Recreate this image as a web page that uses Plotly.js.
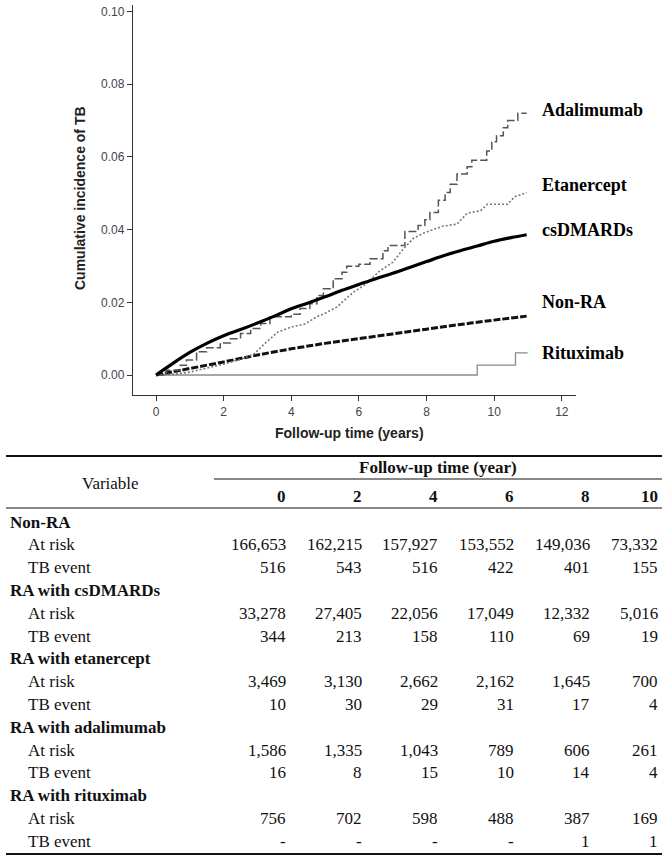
<!DOCTYPE html>
<html>
<head>
<meta charset="utf-8">
<script src="https://cdn.plot.ly/plotly-3.0.1.min.js"></script>
<style>
html,body{margin:0;padding:0;background:#fff;}
#chart{width:666px;height:866px;}
</style>
</head>
<body>
<div id="chart"></div>
<script>
// ---------- Curve data ----------
var nonraT = [0, 0.5, 1, 2, 3, 4, 5, 6, 7, 8, 9, 10, 10.96];
var nonraY = [0, 0.0009, 0.0018, 0.0036, 0.0055, 0.0072, 0.0087, 0.0100, 0.0113, 0.0126, 0.0139, 0.0151, 0.0162];

var csdT = [0, 0.25, 0.5, 1, 1.5, 2, 2.5, 3, 3.5, 4, 4.5, 5, 5.5, 6, 6.5, 7, 7.5, 8, 8.5, 9, 9.5, 10, 10.5, 10.96];
var csdY = [0, 0.0016, 0.0032, 0.0062, 0.0087, 0.0108, 0.0125, 0.0143, 0.0162, 0.0182, 0.0198, 0.0215, 0.0233, 0.0249, 0.0265, 0.0280, 0.0296, 0.0312, 0.0328, 0.0342, 0.0355, 0.0368, 0.0378, 0.0386];

var etaT = [0, 0.5, 1, 1.5, 2, 2.5, 2.9, 3.2, 3.6, 4.0, 4.4, 4.75, 5.0, 5.35, 5.8, 6.2, 6.6, 7.0, 7.3, 7.6, 7.9, 8.5, 8.9, 9.2, 9.6, 9.8, 10.4, 10.6, 10.96];
var etaY = [0, 0.0002, 0.0008, 0.0018, 0.003, 0.0043, 0.0058, 0.0085, 0.0118, 0.0132, 0.014, 0.016, 0.017, 0.0187, 0.0225, 0.025, 0.0285, 0.031, 0.0345, 0.0375, 0.039, 0.041, 0.0415, 0.0445, 0.0452, 0.047, 0.047, 0.049, 0.0502];

var adaT = [0, 0.3, 0.72, 0.9, 1.2, 1.5, 1.9, 2.2, 2.5, 2.8, 3.1, 3.37, 4.0, 4.26, 4.55, 4.76, 4.95, 5.24, 5.5, 5.64, 6.0, 6.33, 6.71, 6.86, 7.36, 7.75, 7.95, 8.1, 8.35, 8.55, 8.7, 8.9, 9.2, 9.34, 9.78, 9.93, 10.07, 10.27, 10.4, 10.7, 10.96];
var adaY = [0, 0.0013, 0.0027, 0.0041, 0.0064, 0.0075, 0.0088, 0.0100, 0.0114, 0.0128, 0.0142, 0.0160, 0.0167, 0.0183, 0.0196, 0.0219, 0.0237, 0.0265, 0.0283, 0.0299, 0.0305, 0.0320, 0.0342, 0.0356, 0.0395, 0.0411, 0.0427, 0.0447, 0.0481, 0.0502, 0.0525, 0.0553, 0.0573, 0.0591, 0.0616, 0.0642, 0.0658, 0.0680, 0.0700, 0.0720, 0.0720];

var ritT = [0, 9.5, 10.63, 10.99];
var ritY = [0, 0.0027, 0.0061, 0.0061];

var curveLabels = ["Adalimumab", "Etanercept", "csDMARDs", "Non-RA", "Rituximab"];

// ---------- Table data ----------
var yearCols = ["0", "2", "4", "6", "8", "10"];
var groupNames = ["Non-RA", "RA with csDMARDs", "RA with etanercept", "RA with adalimumab", "RA with rituximab"];
var atRisk = [
  ["166,653", "162,215", "157,927", "153,552", "149,036", "73,332"],
  ["33,278", "27,405", "22,056", "17,049", "12,332", "5,016"],
  ["3,469", "3,130", "2,662", "2,162", "1,645", "700"],
  ["1,586", "1,335", "1,043", "789", "606", "261"],
  ["756", "702", "598", "488", "387", "169"]
];
var tbEvent = [
  ["516", "543", "516", "422", "401", "155"],
  ["344", "213", "158", "110", "69", "19"],
  ["10", "30", "29", "31", "17", "4"],
  ["16", "8", "15", "10", "14", "4"],
  ["-", "-", "-", "-", "1", "1"]
];

// ---------- Layout helpers ----------
var W = 666, H = 866;
var ML = 133, MR = 90, MT = 5, MB = 471;
var PW = W - ML - MR, PH = H - MT - MB;
function px(x) { return (x - ML) / PW; }
function py(y) { return (H - MB - y) / PH; }

var serif = "Liberation Serif, Times New Roman, serif";
var sans = "Liberation Sans, Arial, sans-serif";

var traces = [
  {x: ritT, y: ritY, mode: "lines", line: {shape: "hv", color: "#8a8a8a", width: 1.3}, name: "Rituximab"},
  {x: nonraT, y: nonraY, mode: "lines", line: {shape: "spline", color: "#111", width: 3, dash: "7px,2px"}, name: "Non-RA"},
  {x: etaT, y: etaY, mode: "lines", line: {shape: "linear", color: "#777", width: 1.6, dash: "2px,2px"}, name: "Etanercept"},
  {x: adaT, y: adaY, mode: "lines", line: {shape: "hv", color: "#555", width: 1.5, dash: "8px,3px"}, name: "Adalimumab"},
  {x: csdT, y: csdY, mode: "lines", line: {shape: "spline", color: "#000", width: 3.2}, name: "csDMARDs"}
];

var ann = [];
var shapes = [];

// curve labels
var labelY = [110, 185, 230, 302, 353];
for (var i = 0; i < curveLabels.length; i++) {
  ann.push({xref: "paper", yref: "paper", x: px(540), y: py(labelY[i]), xanchor: "left", yanchor: "middle",
    text: "<b>" + curveLabels[i] + "</b>", showarrow: false, font: {family: serif, size: 18, color: "#000"}});
}
// axis titles
ann.push({xref: "paper", yref: "paper", x: px(80), y: py(198), xanchor: "center", yanchor: "middle", textangle: -90,
  text: "<b>Cumulative incidence of TB</b>", showarrow: false, font: {family: sans, size: 14, color: "#222"}});
ann.push({xref: "paper", yref: "paper", x: px(349), y: py(433), xanchor: "center", yanchor: "middle",
  text: "<b>Follow-up time (years)</b>", showarrow: false, font: {family: sans, size: 14, color: "#222"}});

// ---------- Table ----------
var colRight = [288, 364, 440, 516, 592, 660];
var tfont = {family: serif, size: 17, color: "#111"};
function cell(x, y, txt, anchor, bold) {
  ann.push({xref: "paper", yref: "paper", x: px(x), y: py(y), xanchor: anchor, yanchor: "middle",
    text: bold ? "<b>" + txt + "</b>" : txt, showarrow: false, font: tfont});
}
cell(110, 483, "Variable", "center", false);
cell(438, 467, "Follow-up time (year)", "center", true);
for (var c = 0; c < yearCols.length; c++) cell(colRight[c], 496, yearCols[c], "right", true);

var rowY0 = 522, rowStep = 22.8;
for (var g = 0; g < groupNames.length; g++) {
  var yG = rowY0 + g * 3 * rowStep;
  cell(8, yG, groupNames[g], "left", true);
  cell(26, yG + rowStep, "At risk", "left", false);
  cell(26, yG + 2 * rowStep, "TB event", "left", false);
  for (var c2 = 0; c2 < yearCols.length; c2++) {
    cell(colRight[c2], yG + rowStep, atRisk[g][c2], "right", false);
    cell(colRight[c2], yG + 2 * rowStep, tbEvent[g][c2], "right", false);
  }
}
function rule(x0, x1, y, w) {
  shapes.push({type: "line", xref: "paper", yref: "paper", x0: px(x0), x1: px(x1), y0: py(y), y1: py(y),
    line: {color: "#111", width: w}});
}
rule(6, 662, 456, 2);
rule(214, 662, 479, 1);
rule(6, 662, 508, 1);
rule(6, 662, 854, 2);

var layout = {
  width: W, height: H,
  margin: {l: ML, r: MR, t: MT, b: MB, pad: 0},
  paper_bgcolor: "#fff", plot_bgcolor: "#fff",
  showlegend: false,
  xaxis: {range: [-0.68, 12.42], tickvals: [0, 2, 4, 6, 8, 10, 12], ticks: "outside", ticklen: 5, tickcolor: "#333",
    showline: true, linecolor: "#333", linewidth: 1.2, showgrid: false, zeroline: false,
    tickfont: {family: sans, size: 12, color: "#444"}, fixedrange: true},
  yaxis: {range: [-0.0055, 0.1018], tickvals: [0, 0.02, 0.04, 0.06, 0.08, 0.10], ticktext: ["0.00", "0.02", "0.04", "0.06", "0.08", "0.10"],
    ticks: "outside", ticklen: 5, tickcolor: "#333",
    showline: true, linecolor: "#333", linewidth: 1.2, showgrid: false, zeroline: false,
    tickfont: {family: sans, size: 12, color: "#444"}, fixedrange: true},
  annotations: ann,
  shapes: shapes
};

Plotly.newPlot("chart", traces, layout, {displayModeBar: false, staticPlot: true});
</script>
</body>
</html>
